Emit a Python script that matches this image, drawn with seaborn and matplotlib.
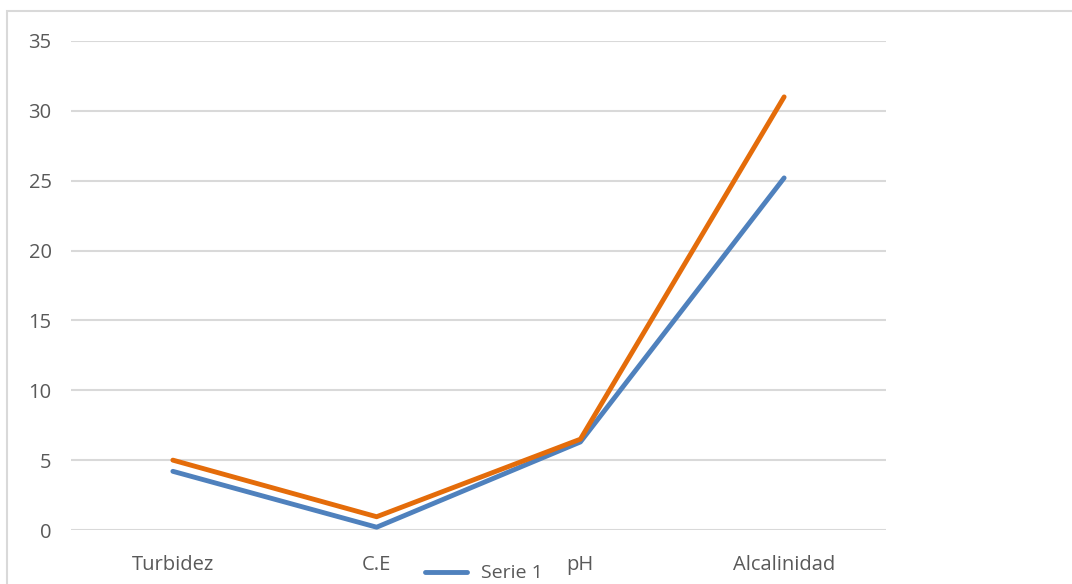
import pandas as pd
import numpy as np
import matplotlib
matplotlib.use("Agg")
import matplotlib.pyplot as plt
import seaborn as sns
from matplotlib.lines import Line2D
from matplotlib.patches import Rectangle

# Values
categorias = ["Turbidez", "C.E", "pH", "Alcalinidad"]
serie_1 = [4.2, 0.2, 6.3, 25.2]
serie_2 = [5.0, 0.95, 6.5, 31.0]

df = pd.DataFrame({
    "parametro": categorias * 2,
    "valor": serie_1 + serie_2,
    "serie": ["Serie 1"] * 4 + ["Serie 2"] * 4,
})
df["x"] = df["parametro"].map({c: i for i, c in enumerate(categorias)})

sns.set_style("white")
plt.rcParams["font.family"] = ["Open Sans", "DejaVu Sans"]

W, H = 1072, 584
fig = plt.figure(figsize=(W / 100, H / 100), dpi=100)
ax = fig.add_axes([71 / W, 1 - 530 / H, (886 - 71) / W, (530 - 41) / H])

sns.lineplot(data=df, x="x", y="valor", hue="serie",
             palette={"Serie 1": "#4F81BD", "Serie 2": "#E46C0A"},
             linewidth=3.5, ax=ax, legend=False, zorder=3)

ax.set_xlim(-0.5, 3.5)
ax.set_ylim(0, 35)
ax.set_yticks(range(0, 36, 5))
ax.set_xticks(range(len(categorias)))
ax.set_xticklabels(categorias)
ax.grid(axis="y", color="#D9D9D9", linewidth=1.5, zorder=0)
ax.set_axisbelow(True)
for s in ax.spines.values():
    s.set_visible(False)
ax.tick_params(axis="both", length=0, labelsize=14.5, colors="#595959")
ax.tick_params(axis="y", pad=14)
ax.tick_params(axis="x", pad=18)
ax.set_xlabel("")
ax.set_ylabel("")

# chart border (Excel chart area)
fig.patches.append(Rectangle((7 / W, -0.1), 1.2, 1 - 11 / H + 0.1,
                             transform=fig.transFigure, fill=False,
                             edgecolor="#D9D9D9", linewidth=1.5))

# legend at the bottom edge
fig.add_artist(Line2D([425 / W, 467 / W], [1 - 572 / H, 1 - 572 / H],
                      transform=fig.transFigure, color="#4F81BD", linewidth=3.5))
fig.text(481 / W, 1 - 573 / H, "Serie 1", fontsize=14, color="#595959",
         va="center", ha="left")

fig.savefig("out.png", dpi=100)
